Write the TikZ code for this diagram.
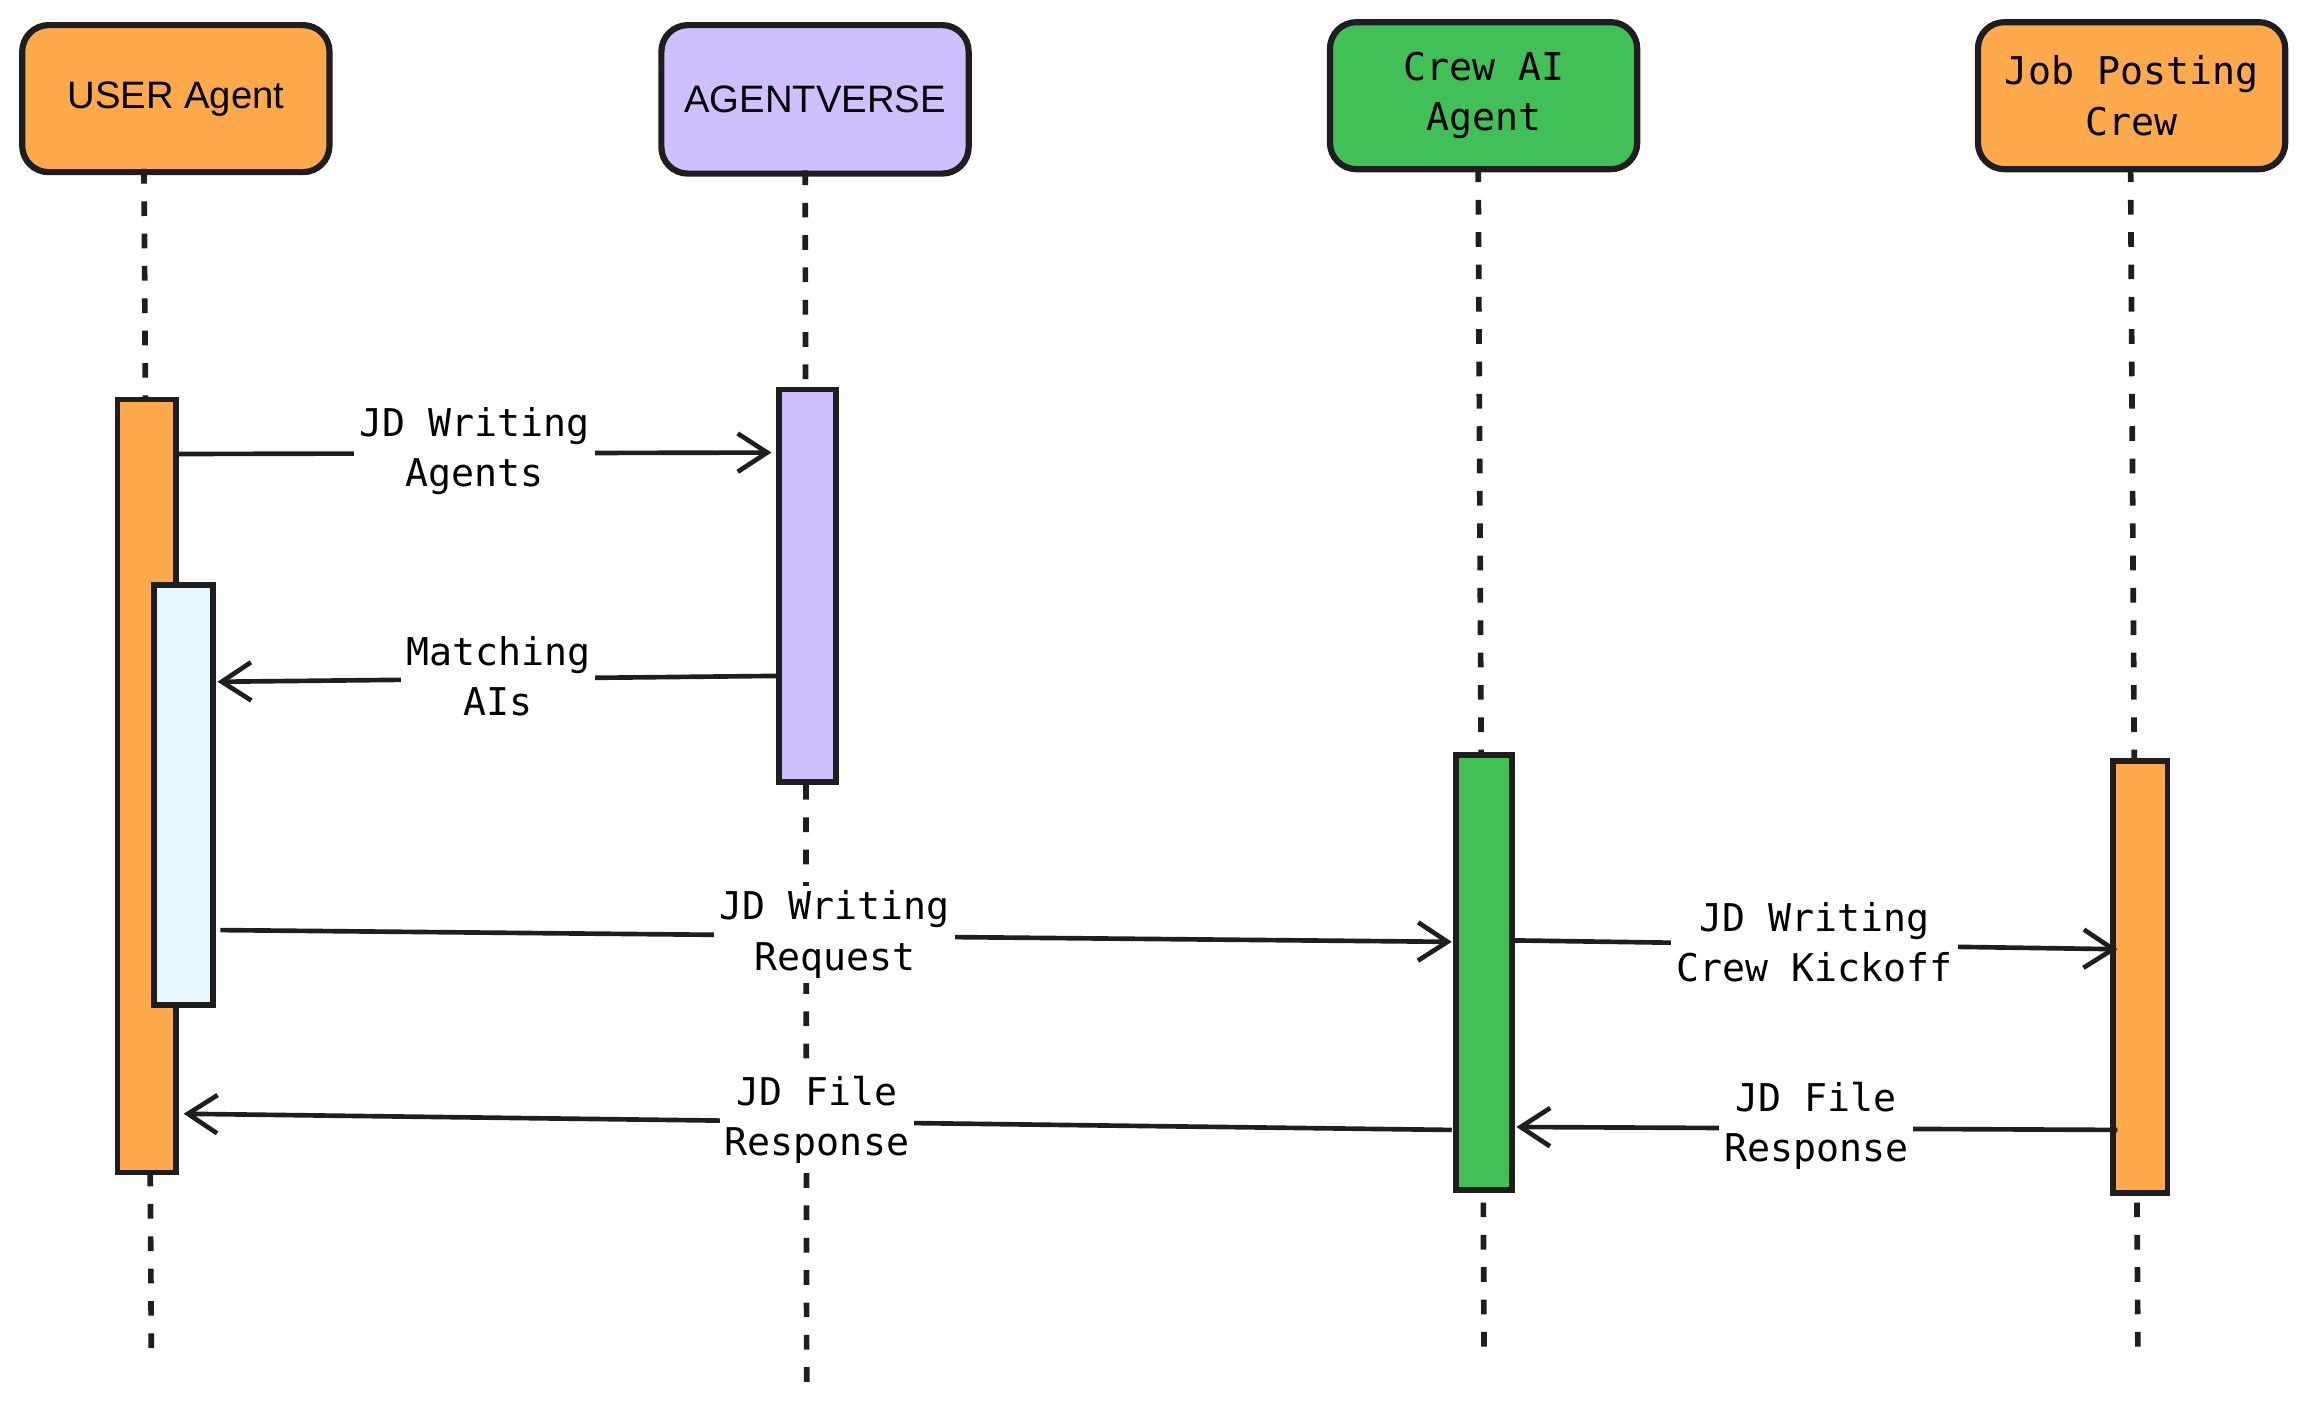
\documentclass[tikz,border=0pt]{standalone}
\usepackage{fontspec}
\setmainfont{DejaVu Sans Mono}
\newfontfamily\hsans{Liberation Sans}
\usetikzlibrary{arrows.meta}
\definecolor{org}{HTML}{FFA94D}
\definecolor{pur}{HTML}{D0BFFF}
\definecolor{grn}{HTML}{40C057}
\definecolor{lblue}{HTML}{E7F5FF}
\definecolor{ink}{HTML}{1E1E1E}
\begin{document}
\begin{tikzpicture}[x=0.01cm,y=-0.01cm,
  head/.style={draw=ink,line width=1.2pt,rounded corners=0.18cm,minimum width=2.09cm,minimum height=1.0cm,align=center,font=\fontsize{7.4}{9.7}\selectfont,anchor=north west},
  life/.style={draw=ink,line width=1.1pt,dash pattern=on 0.1cm off 0.12cm},
  act/.style={draw=ink,line width=1.1pt},
  msg/.style={draw=ink,line width=0.9pt,-{Straight Barb[length=0.2cm,width=0.26cm,line width=0.9pt]}},
  lab/.style={fill=white,inner sep=1pt,align=center,font=\fontsize{7.4}{9.7}\selectfont}]
\useasboundingbox (0,0) rectangle (1568,962);
\node[head,fill=org,minimum height=1.0cm] (h1) at (13,15) {\hsans USER Agent};
\node[head,fill=pur,minimum height=1.01cm] (h2) at (448,15) {\hsans AGENTVERSE};
\node[head,fill=grn] (h3) at (903,13) {Crew AI\\Agent};
\node[head,fill=org] (h4) at (1344,13) {Job Posting\\Crew};
\draw[life] (98,115) -- (103,920);
\draw[life] (548,116) -- (549,948);
\draw[life] (1006,114) -- (1010,920);
\draw[life] (1450,114) -- (1455,925);
\draw[act,fill=org] (80,272) rectangle (120,798) node[pos=0] (a1) {};
\draw[act,fill=lblue] (105,398) rectangle (145,684);
\draw[act,fill=pur] (530,265) rectangle (569,532);
\draw[act,fill=grn] (991,514) rectangle (1029,810);
\draw[act,fill=org] (1438,518) rectangle (1475,812);
\coordinate (p1) at (120,309); \coordinate (q1) at (525,308);
\coordinate (p2) at (530,460); \coordinate (q2) at (148,464);
\coordinate (p3) at (150,633); \coordinate (q3) at (988,641);
\coordinate (p4) at (1029,640); \coordinate (q4) at (1441,646);
\coordinate (p5) at (988,769); \coordinate (q5) at (125,758);
\coordinate (p6) at (1441,769); \coordinate (q6) at (1032,767);
\draw[msg] (p1) -- (q1);
\draw[msg] (p2) -- (q2);
\draw[msg] (p3) -- (q3);
\draw[msg] (p4) -- (q4);
\draw[msg] (p5) -- (q5);
\draw[msg] (p6) -- (q6);
\node[lab] (l1) at (323,307) {JD Writing\\Agents};
\node[lab] (l2) at (339,460) {Matching\\AIs};
\node[lab] (l3) at (568,636) {JD Writing\\Request};
\node[lab] (l4) at (1235,641) {JD Writing\\Crew Kickoff};
\node[lab] (l5) at (556,762) {JD File\\Response};
\node[lab] (l6) at (1236,766) {JD File\\Response};
\end{tikzpicture}
\end{document}
